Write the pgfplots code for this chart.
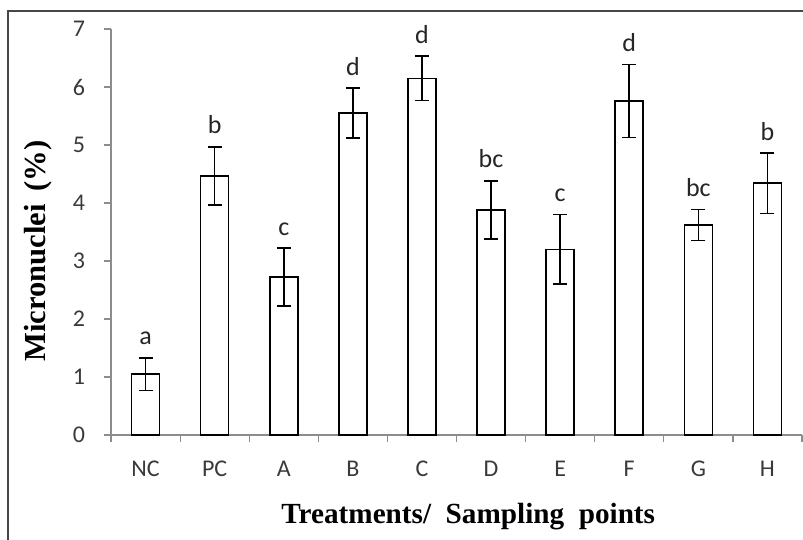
\documentclass[border=0pt]{standalone}
\usepackage{pgfplots}
\usepackage{pgfplotstable}
\pgfplotsset{compat=1.18}
\usepackage{fontspec}
\setmainfont{Carlito}
\newfontfamily\tnr{Liberation Serif}

\pgfplotstableread{
x  y     err   top   lab
0  1.05  0.28  1.33  a
1  4.47  0.50  4.97  b
2  2.72  0.50  3.22  c
3  5.55  0.43  5.98  d
4  6.15  0.38  6.53  d
5  3.88  0.50  4.38  bc
6  3.20  0.60  3.80  c
7  5.76  0.63  6.39  d
8  3.62  0.27  3.89  bc
9  4.34  0.52  4.86  b
}\micro

\definecolor{axgray}{HTML}{8C8C8C}
\definecolor{txtgray}{HTML}{3A3A3A}

\begin{document}
\begin{tikzpicture}[x=1pt,y=1pt]
\useasboundingbox (-55.5,-52.5) rectangle (346,217.5);
\draw[line width=1pt, color=black!72] (-51.5,-60) -- (-51.5,212) -- (360,212);
\begin{axis}[
    at={(0,0)}, anchor=south west,
    scale only axis, width=345.5pt, height=203pt,
    xmin=-0.5, xmax=9.5, ymin=0, ymax=7,
    axis x line=bottom, axis y line=left,
    axis line style={-, color=axgray, line width=0.6pt},
    tick align=outside,
    ytick={0,...,7},
    major tick length=3.5pt,
    y tick style={color=axgray, line width=0.6pt},
    xtick={0,...,9},
    xticklabels={NC,PC,A,B,C,D,E,F,G,H},
    x tick style={draw=none},
    minor xtick={-0.5,0.5,...,9.5},
    minor tick length=3.5pt,
    minor x tick style={draw=axgray, line width=0.6pt},
    tick label style={font=\fontsize{12}{14}\selectfont, color=txtgray},
    /pgf/number format/assume math mode=true,
    yticklabel style={xshift=-6pt},
    xticklabel style={yshift=-6pt},
    xlabel={Treatments/\ \ Sampling\ \ points},
    ylabel={Micronuclei\ \,(\%)},
    xlabel style={font=\tnr\bfseries\fontsize{14.6}{16}\selectfont, at={(axis description cs:0.517,-0.202)}, anchor=center},
    ylabel style={font=\tnr\bfseries\fontsize{15.3}{17}\selectfont, at={(axis description cs:-0.106,0.453)}, anchor=center},
    clip=false,
]
\addplot[ybar, bar width=14pt, draw=black, fill=white, line width=0.8pt,
    error bars/.cd, y dir=both, y explicit,
    error bar style={line width=0.8pt, black},
    error mark options={rotate=90, mark size=3.5pt, line width=0.8pt, black}]
    table[x=x, y=y, y error=err] {\micro};
\addplot[draw=none, mark=none, nodes near coords, point meta=explicit symbolic,
    nodes near coords style={anchor=base, yshift=6.5pt, inner sep=0pt, font=\fontsize{13}{15}\selectfont, color=black!85}]
    table[x=x, y=top, meta=lab] {\micro};
\end{axis}
\end{tikzpicture}
\end{document}
